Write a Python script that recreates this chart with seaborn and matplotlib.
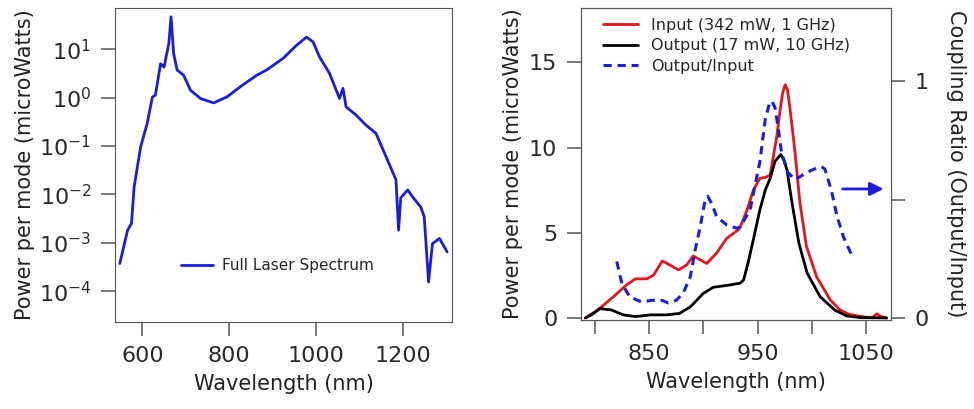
import numpy as np
import matplotlib
matplotlib.use("Agg")
import matplotlib.pyplot as plt
import seaborn as sns

# Left panel: full laser spectrum (log10 of microWatts)
full_nm = [548, 566, 575, 581, 596, 611, 623, 630, 642, 650, 661, 666, 672, 680, 695,
           711, 734, 764, 795, 825, 863, 886, 924, 955, 978, 993, 1008, 1031, 1054,
           1062, 1069, 1092, 1115, 1138, 1161, 1184, 1190, 1195, 1211, 1222, 1241,
           1249, 1259, 1268, 1284, 1302]
full_log = [-3.43, -2.74, -2.6, -1.85, -1.02, -0.54, 0.01, 0.05, 0.7, 0.63, 1.12, 1.67,
            0.91, 0.57, 0.46, 0.15, -0.02, -0.11, 0.015, 0.22, 0.46, 0.57, 0.81, 1.08,
            1.25, 1.15, 0.84, 0.5, -0.02, 0.19, -0.19, -0.36, -0.57, -0.74, -1.22,
            -1.7, -2.74, -2.07, -1.91, -2.05, -2.26, -2.46, -3.81, -3.02, -2.91, -3.19]
full_power = [10 ** v for v in full_log]

# Right panel: input / output spectra (microWatts)
in_nm = [791, 800, 805, 817, 829, 837, 848, 854, 862, 869, 877, 884.5, 890.5, 897, 903,
         912, 921.5, 932, 934, 940, 946, 952, 957, 961.5, 967.5, 970.7, 973, 975.3,
         977.5, 980, 984.5, 989, 995, 1004.5, 1017, 1026, 1035, 1048, 1056, 1060, 1063,
         1069]
in_power = [0.0, 0.37, 0.6, 1.25, 1.94, 2.29, 2.3, 2.52, 3.35, 3.11, 2.82, 3.11, 3.64,
            3.41, 3.2, 3.8, 4.68, 5.17, 5.36, 6.3, 7.5, 8.2, 8.25, 8.4, 10.6, 12.2, 13.2,
            13.7, 13.4, 12.2, 9.7, 6.75, 4.2, 2.4, 1.06, 0.47, 0.2, 0.06, 0.02, 0.25, 0.1,
            0.0]

out_nm = [791, 797, 804.6, 815, 826, 837, 851, 866, 878, 888, 900, 909, 924.5, 934, 937,
          941, 946, 952, 957, 961.5, 966, 971.3, 974, 977, 981.7, 988, 995.6, 1007.6,
          1021, 1032, 1045, 1069]
out_power = [0.0, 0.2, 0.55, 0.47, 0.18, 0.08, 0.18, 0.18, 0.27, 0.66, 1.45, 1.8, 1.94,
             2.05, 2.23, 3.2, 4.6, 6.34, 7.5, 8.2, 9.2, 9.6, 9.3, 8.7, 6.75, 4.4, 2.64,
             1.25, 0.47, 0.12, 0.02, 0.0]

# Coupling ratio (right axis)
ratio_nm = [820, 824.6, 832, 843, 852, 861.5, 867.6, 875, 881.6, 887.8, 892.4, 897,
            901.5, 904, 908, 912, 921.5, 931, 934, 943, 948.6, 952, 957, 961, 963, 966,
            969, 972, 978, 984.5, 995, 1004.5, 1009, 1012, 1018, 1023, 1029, 1038]
ratio = [0.24, 0.148, 0.09, 0.069, 0.076, 0.076, 0.065, 0.076, 0.11, 0.175, 0.29, 0.387,
         0.5, 0.515, 0.48, 0.43, 0.394, 0.38, 0.387, 0.458, 0.585, 0.66, 0.84, 0.91,
         0.917, 0.89, 0.80, 0.70, 0.615, 0.585, 0.615, 0.635, 0.64, 0.63, 0.54, 0.435,
         0.345, 0.254]

sns.set_style("ticks")
plt.rcParams["font.family"] = ["DejaVu Sans"]
plt.rcParams["axes.edgecolor"] = "#555555"
plt.rcParams["xtick.color"] = "#555555"
plt.rcParams["ytick.color"] = "#555555"
plt.rcParams["xtick.labelcolor"] = "#2a2a2a"
plt.rcParams["ytick.labelcolor"] = "#2a2a2a"

blue = "#1c1ce0"
fig = plt.figure(figsize=(9.74, 4.09), dpi=100)
ax1 = fig.add_axes([115 / 974, 1 - 322 / 409, 337 / 974, 314 / 409])
ax2 = fig.add_axes([581 / 974, 1 - 320 / 409, 310 / 974, 312 / 409])

label_fs = 15
tick_fs = 16
tick_kw = dict(length=10, width=1.1, labelsize=tick_fs, pad=7)

# ---- left panel
sns.lineplot(x=full_nm, y=full_power, ax=ax1, color=blue, linewidth=2,
             label="Full Laser Spectrum")
ax1.set_yscale("log")
ax1.set_xlim(537, 1313)
ax1.set_ylim(2.3e-5, 71)
ax1.set_xticks([600, 800, 1000, 1200])
ax1.set_yticks([1e-4, 1e-3, 1e-2, 1e-1, 1, 10])
ax1.minorticks_off()
ax1.tick_params(**tick_kw)
ax1.set_xlabel("Wavelength (nm)", fontsize=label_fs, color="#222222", labelpad=6)
ax1.set_ylabel("Power per mode (microWatts)", fontsize=label_fs, color="#222222",
               labelpad=3)
ax1.legend(loc="center left", bbox_to_anchor=(0.155, 0.18), frameon=False,
           fontsize=11, handlelength=2.1, handletextpad=0.6)

# ---- right panel
sns.lineplot(x=in_nm, y=in_power, ax=ax2, color="#e8141c", linewidth=2,
             label="Input (342 mW, 1 GHz)")
sns.lineplot(x=out_nm, y=out_power, ax=ax2, color="black", linewidth=2,
             label="Output (17 mW, 10 GHz)")
ax3 = ax2.twinx()
sns.lineplot(x=ratio_nm, y=ratio, ax=ax3, color=blue, linewidth=2.2,
             label="Output/Input")
ax3.lines[0].set_dashes([2.7, 1.9])
ax2.set_xlim(787, 1073)
ax2.set_ylim(-0.12, 18.2)
ax3.set_ylim(-0.007, 1.31)
ax2.set_xticks([800, 850, 900, 950, 1000, 1050])
ax2.set_xticklabels(["", "850", "", "950", "", "1050"])
ax2.set_yticks([0, 5, 10, 15])
ax3.set_yticks([0, 0.5, 1])
ax3.set_yticklabels(["0", "", "1"])
ax2.tick_params(**tick_kw)
ax3.tick_params(**tick_kw)
ax2.set_xlabel("Wavelength (nm)", fontsize=label_fs, color="#222222", labelpad=6)
ax2.set_ylabel("Power per mode (microWatts)", fontsize=label_fs, color="#222222",
               labelpad=4)
ax3.set_ylabel("Coupling Ratio (Output/Input)", fontsize=label_fs, color="#222222",
               rotation=-90, labelpad=27)

h2, l2 = ax2.get_legend_handles_labels()
h3, l3 = ax3.get_legend_handles_labels()
ax3.get_legend().remove()
ax2.legend(h2 + h3, l2 + l3, loc="upper left", bbox_to_anchor=(0.025, 1.015),
           frameon=False, fontsize=11.5, handlelength=2.2, labelspacing=0.35)

ax2.annotate("", xy=(0.985, 0.42), xytext=(0.835, 0.42), xycoords="axes fraction",
             arrowprops=dict(arrowstyle="-|>,head_length=0.8,head_width=0.4",
                             color=blue, lw=2))

fig.savefig("out.png", dpi=100)
